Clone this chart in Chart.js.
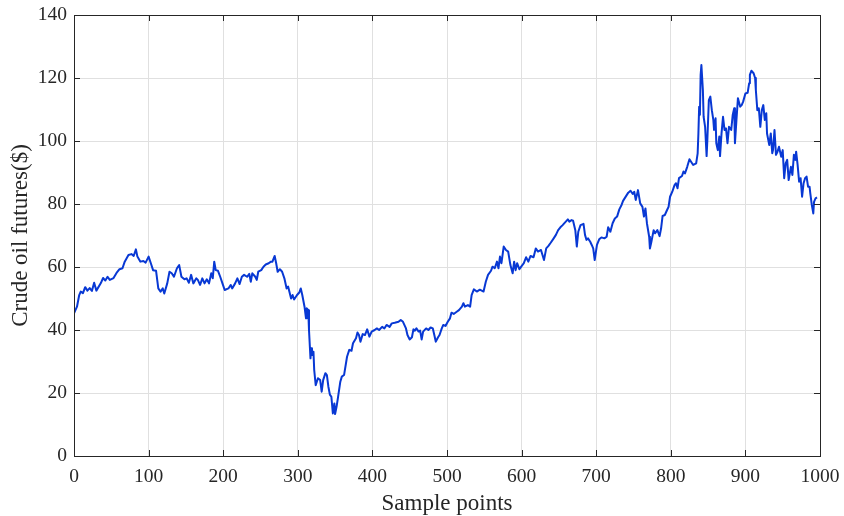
<!DOCTYPE html>
<html>
<head>
<meta charset="utf-8">
<script src="https://cdn.jsdelivr.net/npm/chart.js@4"></script>
<style>
  html, body { margin: 0; padding: 0; background: #ffffff; }
  #wrap { width: 844px; height: 516px; }
</style>
</head>
<body>
<div id="wrap"><canvas id="c" width="844" height="516"></canvas></div>
<script>
// ---- data ----
const sampleIdx = [0,4,7,9,12,15,18,21,24,27,30,36,39,42,45,48,53,57,61,65,68,73,77,80,83,85,89,93,96,100,103,106,110,113,116,119,121,125,128,131,134,138,141,144,148,151,154,157,160,164,166,169,172,175,178,181,184,186,188,190,193,196,199,202,207,210,212,216,219,222,225,228,232,235,237,239,243,245,247,251,254,257,261,264,266,269,271,273,276,279,282,285,287,291,293,295,299,302,304,306,309,311,312,314,315,317,318,319,321,322,324,327,330,332,334,337,339,341,343,345,347,349,350,352,354,357,359,362,366,369,372,374,378,380,382,384,387,390,393,396,399,403,406,409,413,416,419,423,426,430,435,438,441,445,447,450,453,455,457,459,462,464,466,468,472,475,478,481,483,485,488,490,493,495,498,501,504,506,509,513,516,520,522,524,528,531,533,536,540,544,549,552,555,559,561,564,567,569,571,573,576,579,582,585,588,590,592,594,597,600,603,606,609,612,616,619,622,626,628,630,633,636,639,643,646,649,652,655,658,662,664,667,669,672,674,676,679,683,685,687,689,692,694,696,698,701,704,707,711,714,716,719,722,725,728,731,734,736,740,743,746,749,751,753,756,759,762,764,766,768,771,772,774,777,779,782,785,787,789,792,795,797,799,802,805,807,809,811,815,817,819,822,825,830,834,836,837,838,839,840,841,843,844,846,848,849,851,853,855,857,858,860,861,863,865,866,868,870,872,874,876,878,881,883,885,886,888,890,893,895,897,900,903,905,906,908,911,913,914,916,918,920,922,924,926,928,929,932,934,936,937,939,941,943,945,948,950,952,954,956,958,961,963,965,967,968,970,972,974,976,978,980,982,984,986,987,989,991,992,994,996];
const crudePrice = [45.3,47.4,51.1,52.2,51.7,53.6,52.5,53.3,52.4,55.0,52.5,54.9,56.5,55.7,56.9,55.9,56.5,58.1,59.3,59.6,61.7,63.8,64.1,63.5,65.6,63.3,61.7,61.9,61.4,63.3,61.2,59.0,58.8,53.2,52.2,53.2,51.6,54.8,58.5,58.0,56.9,59.6,60.6,56.9,56.1,56.4,55.0,57.5,54.8,56.4,55.9,54.3,56.4,54.8,56.1,54.8,58.0,56.4,61.7,59.0,58.8,56.9,54.8,52.7,53.2,54.3,53.2,54.8,56.4,54.6,56.9,57.5,56.9,57.8,55.3,58.0,56.9,55.9,58.5,59.0,60.1,60.8,61.2,61.7,61.7,63.5,61.2,58.5,59.3,58.5,56.4,53.2,53.8,50.0,51.1,49.7,51.1,51.9,53.2,51.1,47.4,43.7,46.9,46.3,40.0,31.0,34.2,32.1,33.1,27.3,22.5,24.7,24.1,20.4,24.1,26.3,25.7,22.0,19.5,18.8,13.5,16.7,13.3,15.7,18.8,23.6,25.2,25.7,31.5,33.7,33.4,35.8,37.4,39.2,38.4,36.3,38.7,38.4,40.2,37.9,39.5,40.0,40.5,40.0,41.0,40.5,41.6,41.0,42.1,42.3,42.6,43.2,42.6,40.5,38.4,37.0,37.7,40.2,39.8,40.5,39.5,39.8,37.0,39.5,40.5,40.0,40.8,40.5,38.4,36.3,37.7,38.4,40.5,41.6,41.3,42.6,43.7,45.5,45.1,45.8,46.3,47.4,48.5,47.4,47.9,47.4,51.1,52.9,52.2,52.8,52.2,55.3,57.5,58.8,60.1,59.6,61.7,59.6,63.3,61.2,66.5,65.4,64.9,60.6,58.0,61.7,59.0,61.2,59.3,60.3,61.2,63.1,61.7,63.5,63.1,65.9,64.9,65.4,63.8,62.2,65.9,66.7,67.7,69.1,70.2,71.7,72.6,73.3,74.1,75.1,74.4,74.9,74.7,71.7,66.5,71.2,73.3,73.7,70.2,68.6,69.1,68.0,67.0,65.9,62.2,67.0,68.8,69.4,69.1,69.6,72.6,71.2,73.9,75.4,76.0,78.3,79.7,81.0,82.5,83.6,84.2,83.2,83.9,81.3,84.4,80.2,79.1,76.0,78.6,73.9,69.6,65.9,68.0,71.7,70.7,71.7,69.8,72.3,76.2,76.5,78.1,79.1,82.3,83.9,86.0,86.6,85.0,88.2,88.9,90.3,89.7,91.8,94.2,92.4,92.9,96.1,102.4,110.9,108.3,121.0,124.1,116.2,107.7,104.5,95.2,100.3,113.0,114.1,109.8,106.7,103.5,107.2,99.3,97.1,101.4,95.2,102.4,107.7,103.5,104.0,99.3,104.5,103.5,108.3,110.4,99.3,106.7,113.6,110.9,111.4,112.5,115.1,115.3,118.3,121.0,122.3,121.5,120.0,116.2,109.8,110.4,104.5,109.8,111.4,106.7,108.8,102.4,98.7,102.4,96.1,97.1,103.5,95.6,96.6,98.2,95.0,97.1,88.2,92.9,94.0,87.6,91.8,89.2,95.6,94.0,96.6,92.4,87.1,88.2,82.3,86.6,88.2,88.7,85.5,85.5,83.4,79.7,77.0,80.7,81.8,82.1];
const xTicks = [0,100,200,300,400,500,600,700,800,900,1000];
const yTicks = [0,20,40,60,80,100,120,140];
const xTitle = 'Sample points';
const yTitle = 'Crude oil futures($)';

const points = sampleIdx.map((s, i) => ({ x: s, y: crudePrice[i] }));

const SERIF = "'Liberation Serif', 'Times New Roman', serif";
const AXIS_COLOR = '#262626';

const boxTicks = {
  id: 'boxTicks',
  afterDatasetsDraw(chart) {
    const { ctx, chartArea: a, scales: { x, y } } = chart;
    const L = 6;
    ctx.save();
    ctx.strokeStyle = AXIS_COLOR;
    ctx.lineWidth = 1;
    ctx.beginPath();
    xTicks.forEach(v => {
      const p = Math.round(x.getPixelForValue(v)) + 0.5;
      ctx.moveTo(p, a.bottom); ctx.lineTo(p, a.bottom - L);
      ctx.moveTo(p, a.top); ctx.lineTo(p, a.top + L);
    });
    yTicks.forEach(v => {
      const p = Math.round(y.getPixelForValue(v)) + 0.5;
      ctx.moveTo(a.left, p); ctx.lineTo(a.left + L, p);
      ctx.moveTo(a.right, p); ctx.lineTo(a.right - L, p);
    });
    ctx.stroke();
    ctx.strokeRect(Math.round(a.left) + 0.5, Math.round(a.top) + 0.5,
                   Math.round(a.right - a.left), Math.round(a.bottom - a.top));
    ctx.restore();
  }
};

function noOverflow(s) {
  s.paddingLeft = 0; s.paddingRight = 0; s.paddingTop = 0; s.paddingBottom = 0;
}

new Chart(document.getElementById('c'), {
  type: 'line',
  data: {
    datasets: [{
      data: points,
      borderColor: '#0838d4',
      borderWidth: 2,
      pointRadius: 0,
      tension: 0,
      fill: false,
      borderJoinStyle: 'round'
    }]
  },
  plugins: [boxTicks],
  options: {
    responsive: false,
    animation: false,
    events: [],
    layout: { padding: { top: 15, right: 24, left: 0, bottom: 0 } },
    plugins: { legend: { display: false }, tooltip: { enabled: false } },
    scales: {
      x: {
        type: 'linear',
        min: 0, max: 1000,
        afterBuildTicks(s) { s.ticks = xTicks.map(v => ({ value: v })); },
        afterFit(s) { s.height = 60; noOverflow(s); },
        grid: { color: '#e0e0e0', lineWidth: 1, drawTicks: false },
        border: { display: false },
        ticks: { color: '#262626', padding: 9, font: { family: SERIF, size: 19.5 }, maxRotation: 0,
                 callback: v => String(v) },
        title: { display: true, text: xTitle, color: '#262626', font: { family: SERIF, size: 23, lineHeight: 1.05 }, padding: { top: 0, bottom: 0 } }
      },
      y: {
        type: 'linear',
        min: 0, max: 140,
        afterBuildTicks(s) { s.ticks = yTicks.map(v => ({ value: v })); },
        afterFit(s) { s.width = 74; noOverflow(s); },
        grid: { color: '#e0e0e0', lineWidth: 1, drawTicks: false },
        border: { display: false },
        ticks: { color: '#262626', padding: 7, font: { family: SERIF, size: 19.5 },
                 callback: v => String(v) },
        title: { display: true, text: yTitle, color: '#262626', font: { family: SERIF, size: 23 }, padding: { top: 7, bottom: 0 } }
      }
    }
  }
});
</script>
</body>
</html>
